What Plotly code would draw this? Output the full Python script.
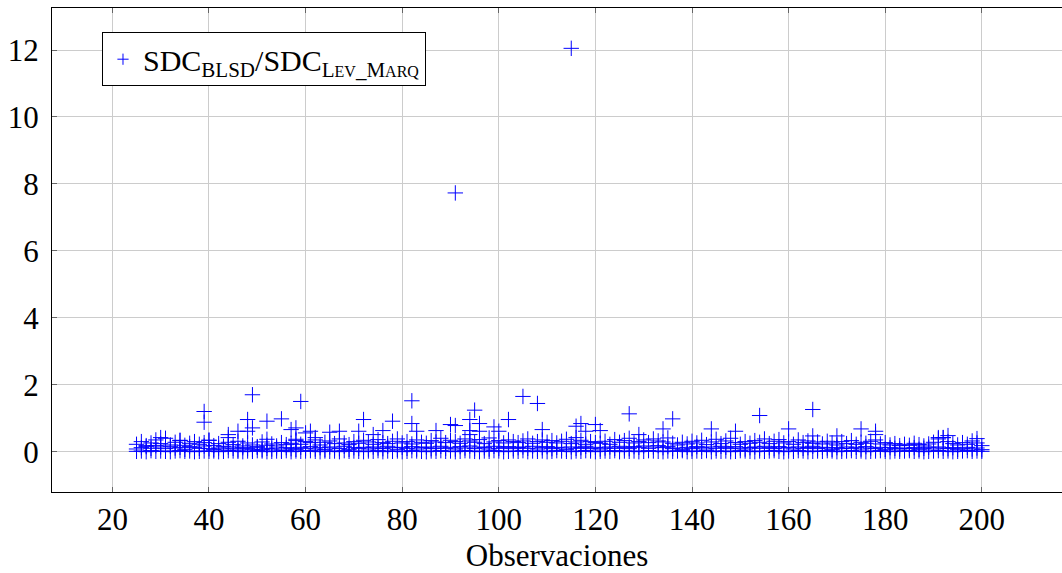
import plotly.graph_objects as go

# Observations (x) 25..200
observaciones = list(range(25, 201))

# Ratio values near zero (one per observation)
ratio_a = [
    0.01, 0.02, 0.00, 0.03, 0.01, 0.02, 0.01, 0.00, 0.02, 0.03, 0.01, 0.02, 0.00, 0.01, 0.02, 0.01,
    0.02, 0.00, 0.01, 0.03, 0.02, 0.01, 0.00, 0.02, 0.01, 0.03, 0.02, 0.00, 0.01, 0.02, 0.01, 0.03,
    0.00, 0.02, 0.01, 0.02, 0.03, 0.01, 0.00, 0.02, 0.01, 0.02, 0.00, 0.03, 0.01, 0.02, 0.01, 0.00,
    0.02, 0.01, 0.03, 0.00, 0.02, 0.01, 0.02, 0.00, 0.01, 0.03, 0.02, 0.01, 0.00, 0.02, 0.01, 0.03,
    0.01, 0.02, 0.00, 0.01, 0.03, 0.02, 0.01, 0.00, 0.02, 0.01, 0.03, 0.02, 0.00, 0.01, 0.02, 0.01,
    0.03, 0.00, 0.02, 0.01, 0.02, 0.00, 0.01, 0.03, 0.02, 0.01, 0.00, 0.02, 0.01, 0.03, 0.02, 0.00,
    0.01, 0.02, 0.01, 0.03, 0.00, 0.02, 0.01, 0.02, 0.00, 0.01, 0.03, 0.02, 0.01, 0.00, 0.02, 0.01,
    0.02, 0.03, 0.00, 0.01, 0.02, 0.01, 0.03, 0.00, 0.02, 0.01, 0.02, 0.00, 0.01, 0.03, 0.02, 0.01,
    0.00, 0.02, 0.01, 0.02, 0.03, 0.01, 0.00, 0.02, 0.01, 0.03, 0.02, 0.00, 0.01, 0.02, 0.01, 0.03,
    0.02, 0.00, 0.01, 0.02, 0.03, 0.01, 0.02, 0.00, 0.01, 0.02, 0.03, 0.01, 0.00, 0.02, 0.01, 0.02,
    0.03, 0.01, 0.02, 0.00, 0.01, 0.02, 0.03, 0.01, 0.02, 0.00, 0.01, 0.02, 0.03, 0.01, 0.02, 0.01,
]

# Second group of ratio values (low band)
ratio_b = [
    0.08, 0.12, 0.15, 0.10, 0.18, 0.14, 0.09, 0.16, 0.11, 0.13, 0.07, 0.15, 0.12, 0.10, 0.17, 0.09,
    0.06, 0.11, 0.08, 0.14, 0.10, 0.05, 0.12, 0.09, 0.07, 0.13, 0.06, 0.10, 0.08, 0.11, 0.05, 0.12,
    0.09, 0.07, 0.13, 0.10, 0.15, 0.08, 0.12, 0.06, 0.14, 0.11, 0.09, 0.16, 0.07, 0.12, 0.10, 0.13,
    0.08, 0.14, 0.11, 0.09, 0.16, 0.12, 0.07, 0.13, 0.10, 0.15, 0.08, 0.12, 0.14, 0.09, 0.11, 0.16,
    0.10, 0.13, 0.08, 0.15, 0.11, 0.17, 0.09, 0.14, 0.12, 0.08, 0.16, 0.10, 0.13, 0.15, 0.09, 0.12,
    0.14, 0.10, 0.16, 0.08, 0.12, 0.15, 0.09, 0.13, 0.11, 0.07, 0.14, 0.10, 0.12, 0.16, 0.09, 0.13,
    0.08, 0.11, 0.14, 0.10, 0.16, 0.12, 0.09, 0.15, 0.13, 0.17, 0.10, 0.14, 0.18, 0.12, 0.15, 0.09,
    0.11, 0.07, 0.13, 0.09, 0.15, 0.12, 0.08, 0.14, 0.10, 0.16, 0.13, 0.09, 0.15, 0.11, 0.08, 0.12,
    0.14, 0.10, 0.16, 0.12, 0.09, 0.15, 0.11, 0.13, 0.08, 0.14, 0.10, 0.12, 0.16, 0.09, 0.13, 0.11,
    0.07, 0.12, 0.09, 0.14, 0.10, 0.13, 0.08, 0.15, 0.11, 0.09, 0.13, 0.07, 0.12, 0.10, 0.08, 0.11,
    0.09, 0.12, 0.07, 0.10, 0.13, 0.08, 0.14, 0.11, 0.09, 0.12, 0.07, 0.10, 0.13, 0.08, 0.11, 0.06,
]

# Third group of ratio values (upper part of band)
ratio_c = [
    0.22, 0.30, 0.18, 0.26, 0.35, 0.24, 0.40, 0.20, 0.28, 0.33, 0.19, 0.25, 0.30, 0.22, 0.27, 0.34,
    0.18, 0.24, 0.16, 0.28, 0.21, 0.31, 0.17, 0.26, 0.20, 0.15, 0.29, 0.19, 0.23, 0.17, 0.27, 0.21,
    0.25, 0.33, 0.22, 0.30, 0.27, 0.35, 0.20, 0.28, 0.32, 0.24, 0.38, 0.26, 0.21, 0.30, 0.25, 0.34,
    0.29, 0.22, 0.36, 0.27, 0.24, 0.31, 0.38, 0.26, 0.30, 0.23, 0.35, 0.28, 0.25, 0.33, 0.29, 0.40,
    0.27, 0.34, 0.30, 0.25, 0.38, 0.32, 0.28, 0.36, 0.24, 0.41, 0.29, 0.33, 0.26, 0.35, 0.30, 0.27,
    0.32, 0.38, 0.25, 0.30, 0.35, 0.28, 0.33, 0.26, 0.31, 0.37, 0.24, 0.29, 0.34, 0.22, 0.30, 0.27,
    0.25, 0.31, 0.22, 0.36, 0.28, 0.33, 0.40, 0.26, 0.30, 0.35, 0.27, 0.38, 0.32, 0.29, 0.41, 0.25,
    0.20, 0.28, 0.23, 0.31, 0.26, 0.34, 0.21, 0.29, 0.37, 0.24, 0.32, 0.40, 0.27, 0.22, 0.30, 0.25,
    0.33, 0.28, 0.38, 0.24, 0.31, 0.36, 0.26, 0.30, 0.22, 0.35, 0.27, 0.32, 0.25, 0.29, 0.23, 0.31,
    0.26, 0.20, 0.30, 0.24, 0.33, 0.22, 0.28, 0.25, 0.31, 0.35, 0.23, 0.27, 0.20, 0.24, 0.18, 0.22,
    0.19, 0.25, 0.21, 0.17, 0.23, 0.28, 0.38, 0.42, 0.30, 0.24, 0.20, 0.27, 0.22, 0.32, 0.26, 0.18,
]

# Sparse higher values (observation, ratio)
high_x = [39, 39, 49, 48, 49, 48, 52, 55, 59, 57, 58, 52, 44, 44, 46, 40, 30, 34, 58, 60, 61, 62, 65, 67,
          72, 71, 74, 76, 78, 82, 82, 83, 87, 90, 91, 91, 94, 95, 96, 96, 94, 94, 99, 102, 100, 105, 108, 109,
          115, 116, 116, 117, 118, 120, 121, 127, 136, 134, 129, 144, 149, 154, 160, 165, 165, 170, 175, 178,
          178, 191, 192, 193, 199]
high_y = [1.20, 0.88, 1.70, 0.96, 0.71, 0.61, 0.91, 0.98, 1.50, 0.66, 0.71, 0.37, 0.51, 0.42, 0.61, 0.34, 0.42, 0.34, 0.37, 0.56, 0.61, 0.42, 0.58, 0.61,
          0.96, 0.61, 0.51, 0.63, 0.91, 1.52, 0.84, 0.61, 0.63, 0.81, 7.73, 0.78, 0.96, 1.24, 0.84, 0.61, 0.63, 0.51, 0.74, 0.96, 0.61, 1.65, 1.44, 0.66,
          12.05, 0.76, 0.42, 0.84, 0.61, 0.81, 0.63, 1.13, 0.98, 0.68, 0.51, 0.68, 0.61, 1.08, 0.68, 1.26, 0.47, 0.47, 0.68, 0.61,
          0.51, 0.42, 0.42, 0.48, 0.39]

x_ticks = [20, 40, 60, 80, 100, 120, 140, 160, 180, 200]
y_ticks = [0, 2, 4, 6, 8, 10, 12]

all_x = observaciones * 3 + high_x
all_y = ratio_a + ratio_b + ratio_c + high_y

FONT = "Liberation Serif"
BLUE = "#0000ff"
legend_name = ("SDC<sub>BLSD</sub>/SDC<sub>L<span style='font-size:16px'>EV</span>_"
               "M<span style='font-size:16px'>ARQ</span></sub>")

fig = go.Figure()
fig.add_trace(go.Scatter(
    x=all_x, y=all_y, mode="markers", name=legend_name,
    marker=dict(symbol="cross-thin-open", size=11, color=BLUE, opacity=1,
                line=dict(color=BLUE, width=1)),
    showlegend=False,
))
# legend entry with a smaller glyph, as in the reference legend
fig.add_trace(go.Scatter(
    x=[None], y=[None], mode="markers", name=legend_name,
    marker=dict(symbol="cross-thin-open", size=8, color=BLUE,
                line=dict(color=BLUE, width=1)),
    showlegend=True,
))

grid_color = "#cccccc"
fig.update_layout(
    width=1062, height=573,
    margin=dict(l=52, r=0, t=8, b=81),
    paper_bgcolor="white", plot_bgcolor="white",
    font=dict(family=FONT, size=31, color="black"),
    showlegend=True,
    legend=dict(x=0.0495, y=0.95, xanchor="left", yanchor="top",
                bgcolor="white", bordercolor="black", borderwidth=1,
                font=dict(family=FONT, size=30),
                itemwidth=30, tracegroupgap=0),
    xaxis=dict(range=[7.5, 216.6], tickvals=x_ticks, ticks="inside", ticklen=5,
               tickcolor="#666666", showgrid=True, gridcolor=grid_color, gridwidth=1,
               showline=True, linecolor="black", linewidth=1.3, mirror="ticks",
               zeroline=False,
               title=dict(text="Observaciones", standoff=8, font=dict(family=FONT, size=31))),
    yaxis=dict(range=[-1.205, 13.255], tickvals=y_ticks, ticks="inside", ticklen=5,
               tickcolor="#666666", showgrid=True, gridcolor=grid_color, gridwidth=1,
               showline=True, linecolor="black", linewidth=1.3, mirror=False,
               zeroline=False, ticklabelstandoff=6),
)

fig.write_html("out.html")
